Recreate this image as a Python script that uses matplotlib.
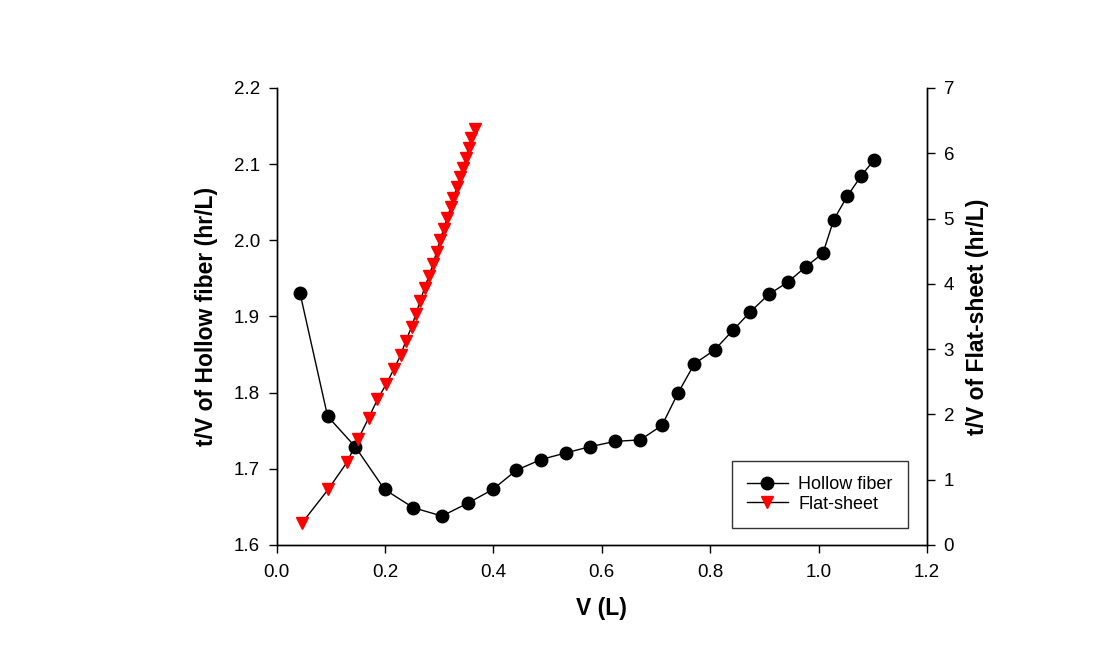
import matplotlib
matplotlib.use('Agg')
import matplotlib.pyplot as plt

plt.rcParams['font.family'] = ['Liberation Sans', 'DejaVu Sans']

# Hollow fiber (left axis)
hf_v = [0.043, 0.094, 0.145, 0.199, 0.252, 0.305, 0.353, 0.399, 0.442, 0.487,
        0.534, 0.578, 0.624, 0.671, 0.711, 0.741, 0.771, 0.808, 0.842, 0.874,
        0.908, 0.943, 0.976, 1.008, 1.028, 1.053, 1.079, 1.103]
hf_tv = [1.931, 1.769, 1.729, 1.673, 1.649, 1.638, 1.655, 1.673, 1.698, 1.712,
         1.721, 1.729, 1.736, 1.738, 1.757, 1.800, 1.838, 1.856, 1.882, 1.906,
         1.929, 1.945, 1.965, 1.983, 2.027, 2.058, 2.085, 2.106]

# Flat-sheet (right axis)
fs_v = [0.047, 0.095, 0.130, 0.151, 0.170, 0.186, 0.202, 0.216, 0.229, 0.238,
        0.249, 0.257, 0.265, 0.273, 0.281, 0.289, 0.295, 0.302, 0.308, 0.315,
        0.321, 0.326, 0.333, 0.338, 0.343, 0.349, 0.354, 0.359, 0.366]
fs_tv = [0.34, 0.85, 1.27, 1.63, 1.95, 2.23, 2.46, 2.69, 2.91, 3.12,
         3.34, 3.54, 3.74, 3.94, 4.12, 4.31, 4.49, 4.67, 4.84, 5.01,
         5.17, 5.32, 5.48, 5.64, 5.78, 5.93, 6.08, 6.23, 6.37]

fig = plt.figure(figsize=(10.97, 6.59), dpi=100)
ax = fig.add_axes([0.2522, 0.173, 0.5928, 0.6935])
ax2 = ax.twinx()

l1, = ax.plot(hf_v, hf_tv, color='black', lw=1, marker='o', ms=9,
              mfc='black', mec='black', label='Hollow fiber')
l2, = ax2.plot(fs_v, fs_tv, color='black', lw=1, marker='v', ms=8.5,
               mfc='red', mec='red', label='Flat-sheet')

ax.set_xlim(0, 1.2)
ax.set_ylim(1.6, 2.2)
ax2.set_ylim(0, 7)
ax.set_xticks([0.0, 0.2, 0.4, 0.6, 0.8, 1.0, 1.2])
ax.set_yticks([1.6, 1.7, 1.8, 1.9, 2.0, 2.1, 2.2])
ax2.set_yticks(range(8))

for a in (ax, ax2):
    a.tick_params(direction='out', length=6, width=1, labelsize=13.5, pad=6)
    for s in a.spines.values():
        s.set_linewidth(1)
ax.tick_params(axis='x', pad=8)
ax.spines['top'].set_visible(False)
ax2.spines['top'].set_visible(False)

ax.set_xlabel('V (L)', fontsize=16.5, fontweight='bold', labelpad=11)
ax.set_ylabel('t/V of Hollow fiber (hr/L)', fontsize=16.5, fontweight='bold', labelpad=11)
ax2.set_ylabel('t/V of Flat-sheet (hr/L)', fontsize=16.5, fontweight='bold',
               labelpad=9, rotation=90, va='bottom')
ax2.yaxis.set_label_coords(1.095, 0.5)

leg = ax.legend(handles=[l1, l2], loc='lower right', bbox_to_anchor=(0.971, 0.037),
                borderaxespad=0, fontsize=13, frameon=True, fancybox=False,
                edgecolor='black', handlelength=2.25, borderpad=0.85,
                labelspacing=0.15, handletextpad=0.6)
leg.get_frame().set_linewidth(1)

fig.savefig('out.png', dpi=100)
